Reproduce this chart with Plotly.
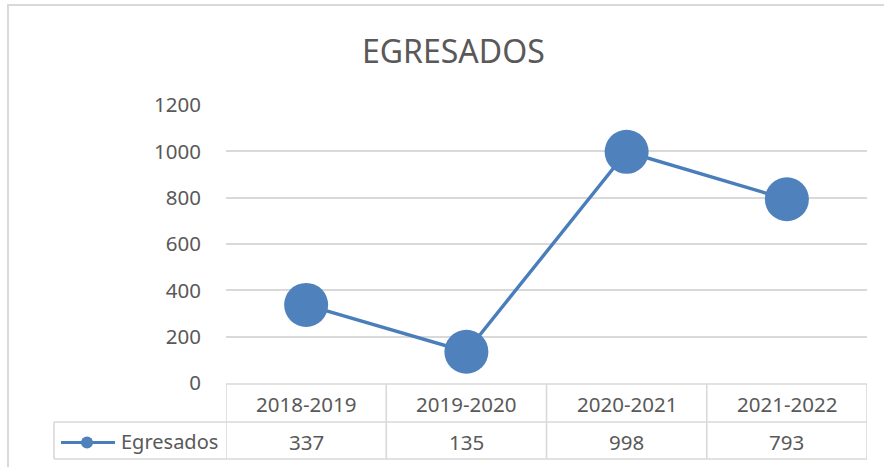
import plotly.graph_objects as go

# ---- data ----
categories = ["2018-2019", "2019-2020", "2020-2021", "2021-2022"]
egresados = [337, 135, 998, 793]
series_name = "Egresados"
title_text = "EGRESADOS"
y_ticks = [0, 200, 400, 600, 800, 1000, 1200]

W, H = 884, 467
FONT = "Noto Sans"
TXT = "#595959"
GRID = "#D9D9D9"
BLUE = "#4F81BD"


def px(x):
    return x / W


def py(y):
    return 1 - y / H


fig = go.Figure()
fig.add_trace(go.Scatter(
    x=categories, y=egresados, mode="lines+markers", name=series_name,
    line=dict(color="#4A7EBB", width=3.4),
    marker=dict(size=44, color=BLUE, line=dict(width=0)),
    showlegend=False, hoverinfo="skip",
))

plot_left, plot_right, plot_top, plot_bottom = 226, 867, 105, 383
row_mid, row_bot = 422, 459
legend_left = 54

shapes = []
# chart frame
shapes.append(dict(type="rect", xref="paper", yref="paper",
                   x0=px(8), x1=px(W + 40), y0=py(5), y1=py(H + 40),
                   line=dict(color=GRID, width=2), fillcolor="rgba(0,0,0,0)", layer="below"))
# table horizontal lines
shapes.append(dict(type="line", xref="x", yref="paper", x0=-0.5, x1=len(categories) - 0.5,
                   y0=py(plot_bottom + 1), y1=py(plot_bottom + 1), line=dict(color=GRID, width=1.6)))
for yy in (row_mid, row_bot):
    shapes.append(dict(type="line", xref="paper", yref="paper", x0=px(legend_left), x1=px(plot_right),
                       y0=py(yy), y1=py(yy), line=dict(color=GRID, width=1.6)))
# table vertical lines
for i in range(len(categories) + 1):
    shapes.append(dict(type="line", xref="x", yref="paper", x0=i - 0.5, x1=i - 0.5,
                       y0=py(plot_bottom + 1), y1=py(row_bot), line=dict(color=GRID, width=1.6)))
shapes.append(dict(type="line", xref="paper", yref="paper", x0=px(legend_left), x1=px(legend_left),
                   y0=py(row_mid), y1=py(row_bot), line=dict(color=GRID, width=1.6)))
# legend key
ky = (row_mid + row_bot) / 2 + 2
shapes.append(dict(type="line", xref="paper", yref="paper", x0=px(61), x1=px(115),
                   y0=py(ky), y1=py(ky), line=dict(color="#4A7EBB", width=3)))
shapes.append(dict(type="circle", xref="paper", yref="paper", x0=px(81), x1=px(93),
                   y0=py(ky - 6), y1=py(ky + 6), line=dict(width=0), fillcolor=BLUE))

annotations = []
for c, v in zip(categories, egresados):
    annotations.append(dict(x=c, xref="x", y=py((plot_bottom + row_mid) / 2 + 1), yref="paper",
                            xanchor="center", yanchor="middle",
                            text=c, showarrow=False, font=dict(family=FONT, size=20.5, color=TXT)))
    annotations.append(dict(x=c, xref="x", y=py((row_mid + row_bot) / 2 + 1), yref="paper",
                            xanchor="center", yanchor="middle",
                            text=str(v), showarrow=False, font=dict(family=FONT, size=20.5, color=TXT)))
annotations.append(dict(x=px(119), xref="paper", xanchor="left", y=py((row_mid + row_bot) / 2 + 1),
                        yref="paper", yanchor="middle",
                        text=series_name, showarrow=False, font=dict(family=FONT, size=20, color=TXT)))
annotations.append(dict(x=px(454), xref="paper", xanchor="center", y=py(50), yref="paper", yanchor="middle",
                        text=title_text, showarrow=False, font=dict(family=FONT, size=32, color=TXT)))

fig.update_layout(
    template="none",
    width=W, height=H, margin=dict(l=0, r=0, t=0, b=0, pad=0, autoexpand=False),
    paper_bgcolor="white", plot_bgcolor="white",
    xaxis=dict(domain=[px(plot_left), px(plot_right)], range=[-0.5, len(categories) - 0.5],
               showticklabels=False, showgrid=False, zeroline=False, showline=False,
               automargin=False, fixedrange=True),
    yaxis=dict(domain=[py(plot_bottom), py(plot_top)], range=[0, 1200], tickvals=y_ticks,
               showgrid=True, gridcolor=GRID, gridwidth=1.6, zeroline=False, showline=False,
               ticks="", ticklabelstandoff=24, automargin=False,
               tickfont=dict(family=FONT, size=20.5, color=TXT), fixedrange=True),
    shapes=shapes, annotations=annotations,
)

fig.write_html("out.html", config={"displayModeBar": False},
               post_script="document.body.style.margin='0px';")
